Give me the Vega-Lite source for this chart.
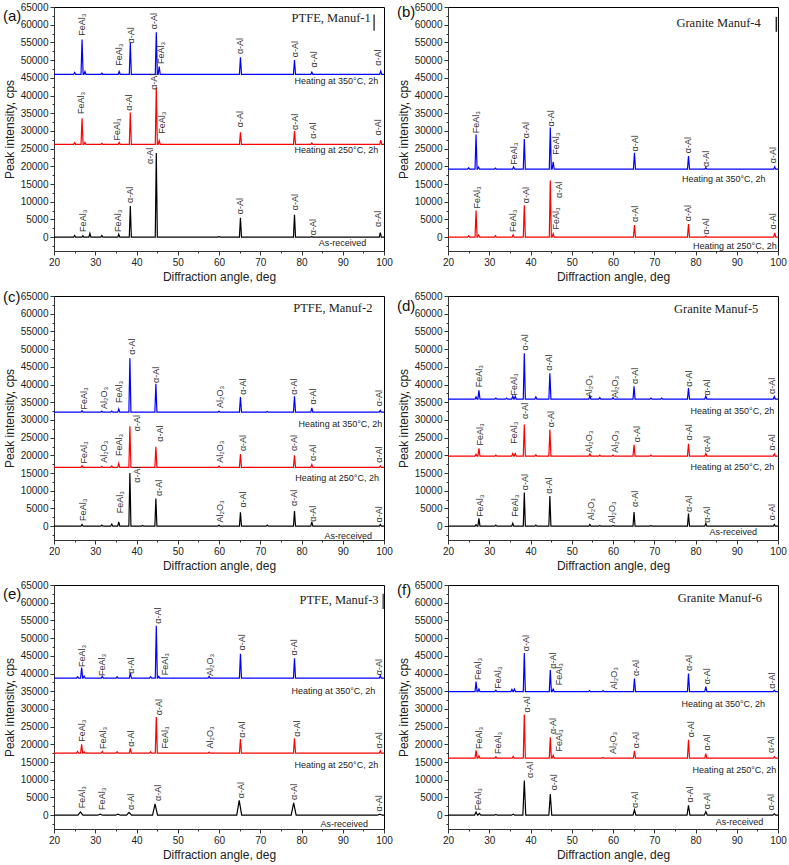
{
"$schema": "https://vega.github.io/schema/vega-lite/v6.json",
"padding": {"left": 2, "top": 1, "right": 2, "bottom": 1},
"bounds": "flush",
"data": {"values": [
{"k":"L","p":"a","s":"h3","x":20,"y":46000},{"k":"L","p":"a","s":"h3","x":24.75,"y":46000},{"k":"L","p":"a","s":"h3","x":25,"y":46500},{"k":"L","p":"a","s":"h3","x":25.25,"y":46000},{"k":"L","p":"a","s":"h3","x":26.55,"y":46000},{"k":"L","p":"a","s":"h3","x":26.8,"y":55800},{"k":"L","p":"a","s":"h3","x":27.05,"y":46000},{"k":"L","p":"a","s":"h3","x":27.25,"y":46000},{"k":"L","p":"a","s":"h3","x":27.5,"y":46800},{"k":"L","p":"a","s":"h3","x":27.75,"y":46000},{"k":"L","p":"a","s":"h3","x":31.35,"y":46000},{"k":"L","p":"a","s":"h3","x":31.6,"y":46300},{"k":"L","p":"a","s":"h3","x":31.85,"y":46000},{"k":"L","p":"a","s":"h3","x":35.55,"y":46000},{"k":"L","p":"a","s":"h3","x":35.8,"y":46800},{"k":"L","p":"a","s":"h3","x":36.05,"y":46000},{"k":"L","p":"a","s":"h3","x":38.25,"y":46000},{"k":"L","p":"a","s":"h3","x":38.5,"y":54800},{"k":"L","p":"a","s":"h3","x":38.75,"y":46000},{"k":"L","p":"a","s":"h3","x":44.55,"y":46000},{"k":"L","p":"a","s":"h3","x":44.8,"y":57900},{"k":"L","p":"a","s":"h3","x":45.05,"y":46000},{"k":"L","p":"a","s":"h3","x":45.25,"y":46000},{"k":"L","p":"a","s":"h3","x":45.5,"y":48200},{"k":"L","p":"a","s":"h3","x":45.75,"y":46000},{"k":"L","p":"a","s":"h3","x":64.95,"y":46000},{"k":"L","p":"a","s":"h3","x":65.2,"y":50800},{"k":"L","p":"a","s":"h3","x":65.45,"y":46000},{"k":"L","p":"a","s":"h3","x":78.05,"y":46000},{"k":"L","p":"a","s":"h3","x":78.3,"y":50000},{"k":"L","p":"a","s":"h3","x":78.55,"y":46000},{"k":"L","p":"a","s":"h3","x":82.25,"y":46000},{"k":"L","p":"a","s":"h3","x":82.5,"y":46600},{"k":"L","p":"a","s":"h3","x":82.75,"y":46000},{"k":"L","p":"a","s":"h3","x":98.95,"y":46000},{"k":"L","p":"a","s":"h3","x":99.2,"y":46900},{"k":"L","p":"a","s":"h3","x":99.45,"y":46000},{"k":"L","p":"a","s":"h3","x":100,"y":46000},
{"k":"L","p":"a","s":"h2","x":20,"y":26200},{"k":"L","p":"a","s":"h2","x":24.75,"y":26200},{"k":"L","p":"a","s":"h2","x":25,"y":26700},{"k":"L","p":"a","s":"h2","x":25.25,"y":26200},{"k":"L","p":"a","s":"h2","x":26.55,"y":26200},{"k":"L","p":"a","s":"h2","x":26.8,"y":33600},{"k":"L","p":"a","s":"h2","x":27.05,"y":26200},{"k":"L","p":"a","s":"h2","x":27.25,"y":26200},{"k":"L","p":"a","s":"h2","x":27.5,"y":26800},{"k":"L","p":"a","s":"h2","x":27.75,"y":26200},{"k":"L","p":"a","s":"h2","x":31.35,"y":26200},{"k":"L","p":"a","s":"h2","x":31.6,"y":26500},{"k":"L","p":"a","s":"h2","x":31.85,"y":26200},{"k":"L","p":"a","s":"h2","x":35.55,"y":26200},{"k":"L","p":"a","s":"h2","x":35.8,"y":26800},{"k":"L","p":"a","s":"h2","x":36.05,"y":26200},{"k":"L","p":"a","s":"h2","x":38.25,"y":26200},{"k":"L","p":"a","s":"h2","x":38.5,"y":35200},{"k":"L","p":"a","s":"h2","x":38.75,"y":26200},{"k":"L","p":"a","s":"h2","x":44.55,"y":26200},{"k":"L","p":"a","s":"h2","x":44.8,"y":42300},{"k":"L","p":"a","s":"h2","x":45.05,"y":26200},{"k":"L","p":"a","s":"h2","x":45.25,"y":26200},{"k":"L","p":"a","s":"h2","x":45.5,"y":27300},{"k":"L","p":"a","s":"h2","x":45.75,"y":26200},{"k":"L","p":"a","s":"h2","x":64.95,"y":26200},{"k":"L","p":"a","s":"h2","x":65.2,"y":29600},{"k":"L","p":"a","s":"h2","x":65.45,"y":26200},{"k":"L","p":"a","s":"h2","x":78.05,"y":26200},{"k":"L","p":"a","s":"h2","x":78.3,"y":30000},{"k":"L","p":"a","s":"h2","x":78.55,"y":26200},{"k":"L","p":"a","s":"h2","x":82.25,"y":26200},{"k":"L","p":"a","s":"h2","x":82.5,"y":26600},{"k":"L","p":"a","s":"h2","x":82.75,"y":26200},{"k":"L","p":"a","s":"h2","x":98.95,"y":26200},{"k":"L","p":"a","s":"h2","x":99.2,"y":27400},{"k":"L","p":"a","s":"h2","x":99.45,"y":26200},{"k":"L","p":"a","s":"h2","x":100,"y":26200},
{"k":"L","p":"a","s":"ar","x":20,"y":0},{"k":"L","p":"a","s":"ar","x":24.75,"y":0},{"k":"L","p":"a","s":"ar","x":25,"y":500},{"k":"L","p":"a","s":"ar","x":25.25,"y":0},{"k":"L","p":"a","s":"ar","x":26.75,"y":0},{"k":"L","p":"a","s":"ar","x":27,"y":400},{"k":"L","p":"a","s":"ar","x":27.25,"y":0},{"k":"L","p":"a","s":"ar","x":28.45,"y":0},{"k":"L","p":"a","s":"ar","x":28.7,"y":1100},{"k":"L","p":"a","s":"ar","x":28.95,"y":0},{"k":"L","p":"a","s":"ar","x":31.35,"y":0},{"k":"L","p":"a","s":"ar","x":31.6,"y":500},{"k":"L","p":"a","s":"ar","x":31.85,"y":0},{"k":"L","p":"a","s":"ar","x":35.45,"y":0},{"k":"L","p":"a","s":"ar","x":35.7,"y":800},{"k":"L","p":"a","s":"ar","x":35.95,"y":0},{"k":"L","p":"a","s":"ar","x":38.25,"y":0},{"k":"L","p":"a","s":"ar","x":38.5,"y":8800},{"k":"L","p":"a","s":"ar","x":38.75,"y":0},{"k":"L","p":"a","s":"ar","x":44.55,"y":0},{"k":"L","p":"a","s":"ar","x":44.8,"y":23800},{"k":"L","p":"a","s":"ar","x":45.05,"y":0},{"k":"L","p":"a","s":"ar","x":59.75,"y":0},{"k":"L","p":"a","s":"ar","x":60,"y":200},{"k":"L","p":"a","s":"ar","x":60.25,"y":0},{"k":"L","p":"a","s":"ar","x":64.95,"y":0},{"k":"L","p":"a","s":"ar","x":65.2,"y":5500},{"k":"L","p":"a","s":"ar","x":65.45,"y":0},{"k":"L","p":"a","s":"ar","x":78.05,"y":0},{"k":"L","p":"a","s":"ar","x":78.3,"y":6300},{"k":"L","p":"a","s":"ar","x":78.55,"y":0},{"k":"L","p":"a","s":"ar","x":82.25,"y":0},{"k":"L","p":"a","s":"ar","x":82.5,"y":200},{"k":"L","p":"a","s":"ar","x":82.75,"y":0},{"k":"L","p":"a","s":"ar","x":98.85,"y":0},{"k":"L","p":"a","s":"ar","x":99.1,"y":1300},{"k":"L","p":"a","s":"ar","x":99.35,"y":0},{"k":"L","p":"a","s":"ar","x":100,"y":0},
{"k":"L","p":"b","s":"h3","x":20,"y":19200},{"k":"L","p":"b","s":"h3","x":24.75,"y":19200},{"k":"L","p":"b","s":"h3","x":25,"y":19600},{"k":"L","p":"b","s":"h3","x":25.25,"y":19200},{"k":"L","p":"b","s":"h3","x":26.55,"y":19200},{"k":"L","p":"b","s":"h3","x":26.8,"y":29000},{"k":"L","p":"b","s":"h3","x":27.05,"y":19200},{"k":"L","p":"b","s":"h3","x":27.15,"y":19200},{"k":"L","p":"b","s":"h3","x":27.4,"y":19800},{"k":"L","p":"b","s":"h3","x":27.65,"y":19200},{"k":"L","p":"b","s":"h3","x":31.25,"y":19200},{"k":"L","p":"b","s":"h3","x":31.5,"y":19500},{"k":"L","p":"b","s":"h3","x":31.75,"y":19200},{"k":"L","p":"b","s":"h3","x":35.65,"y":19200},{"k":"L","p":"b","s":"h3","x":35.9,"y":19900},{"k":"L","p":"b","s":"h3","x":36.15,"y":19200},{"k":"L","p":"b","s":"h3","x":38.25,"y":19200},{"k":"L","p":"b","s":"h3","x":38.5,"y":27700},{"k":"L","p":"b","s":"h3","x":38.75,"y":19200},{"k":"L","p":"b","s":"h3","x":44.55,"y":19200},{"k":"L","p":"b","s":"h3","x":44.8,"y":31000},{"k":"L","p":"b","s":"h3","x":45.05,"y":19200},{"k":"L","p":"b","s":"h3","x":45.25,"y":19200},{"k":"L","p":"b","s":"h3","x":45.5,"y":21300},{"k":"L","p":"b","s":"h3","x":45.75,"y":19200},{"k":"L","p":"b","s":"h3","x":64.95,"y":19200},{"k":"L","p":"b","s":"h3","x":65.2,"y":23800},{"k":"L","p":"b","s":"h3","x":65.45,"y":19200},{"k":"L","p":"b","s":"h3","x":78.05,"y":19200},{"k":"L","p":"b","s":"h3","x":78.3,"y":22900},{"k":"L","p":"b","s":"h3","x":78.55,"y":19200},{"k":"L","p":"b","s":"h3","x":82.25,"y":19200},{"k":"L","p":"b","s":"h3","x":82.5,"y":19700},{"k":"L","p":"b","s":"h3","x":82.75,"y":19200},{"k":"L","p":"b","s":"h3","x":98.95,"y":19200},{"k":"L","p":"b","s":"h3","x":99.2,"y":19900},{"k":"L","p":"b","s":"h3","x":99.45,"y":19200},{"k":"L","p":"b","s":"h3","x":100,"y":19200},
{"k":"L","p":"b","s":"h2","x":20,"y":0},{"k":"L","p":"b","s":"h2","x":24.75,"y":0},{"k":"L","p":"b","s":"h2","x":25,"y":400},{"k":"L","p":"b","s":"h2","x":25.25,"y":0},{"k":"L","p":"b","s":"h2","x":26.55,"y":0},{"k":"L","p":"b","s":"h2","x":26.8,"y":7500},{"k":"L","p":"b","s":"h2","x":27.05,"y":0},{"k":"L","p":"b","s":"h2","x":27.15,"y":0},{"k":"L","p":"b","s":"h2","x":27.4,"y":600},{"k":"L","p":"b","s":"h2","x":27.65,"y":0},{"k":"L","p":"b","s":"h2","x":31.25,"y":0},{"k":"L","p":"b","s":"h2","x":31.5,"y":400},{"k":"L","p":"b","s":"h2","x":31.75,"y":0},{"k":"L","p":"b","s":"h2","x":35.55,"y":0},{"k":"L","p":"b","s":"h2","x":35.8,"y":700},{"k":"L","p":"b","s":"h2","x":36.05,"y":0},{"k":"L","p":"b","s":"h2","x":38.25,"y":0},{"k":"L","p":"b","s":"h2","x":38.5,"y":9000},{"k":"L","p":"b","s":"h2","x":38.75,"y":0},{"k":"L","p":"b","s":"h2","x":44.55,"y":0},{"k":"L","p":"b","s":"h2","x":44.8,"y":16000},{"k":"L","p":"b","s":"h2","x":45.05,"y":0},{"k":"L","p":"b","s":"h2","x":45.25,"y":0},{"k":"L","p":"b","s":"h2","x":45.5,"y":1000},{"k":"L","p":"b","s":"h2","x":45.75,"y":0},{"k":"L","p":"b","s":"h2","x":64.95,"y":0},{"k":"L","p":"b","s":"h2","x":65.2,"y":3400},{"k":"L","p":"b","s":"h2","x":65.45,"y":0},{"k":"L","p":"b","s":"h2","x":78.05,"y":0},{"k":"L","p":"b","s":"h2","x":78.3,"y":3700},{"k":"L","p":"b","s":"h2","x":78.55,"y":0},{"k":"L","p":"b","s":"h2","x":82.25,"y":0},{"k":"L","p":"b","s":"h2","x":82.5,"y":300},{"k":"L","p":"b","s":"h2","x":82.75,"y":0},{"k":"L","p":"b","s":"h2","x":98.95,"y":0},{"k":"L","p":"b","s":"h2","x":99.2,"y":1200},{"k":"L","p":"b","s":"h2","x":99.45,"y":0},{"k":"L","p":"b","s":"h2","x":100,"y":0},
{"k":"L","p":"c","s":"h3","x":20,"y":32200},{"k":"L","p":"c","s":"h3","x":26.55,"y":32200},{"k":"L","p":"c","s":"h3","x":26.8,"y":32600},{"k":"L","p":"c","s":"h3","x":27.05,"y":32200},{"k":"L","p":"c","s":"h3","x":31.35,"y":32200},{"k":"L","p":"c","s":"h3","x":31.6,"y":32500},{"k":"L","p":"c","s":"h3","x":31.85,"y":32200},{"k":"L","p":"c","s":"h3","x":33.75,"y":32200},{"k":"L","p":"c","s":"h3","x":34,"y":32500},{"k":"L","p":"c","s":"h3","x":34.25,"y":32200},{"k":"L","p":"c","s":"h3","x":35.45,"y":32200},{"k":"L","p":"c","s":"h3","x":35.7,"y":33100},{"k":"L","p":"c","s":"h3","x":35.95,"y":32200},{"k":"L","p":"c","s":"h3","x":38.15,"y":32200},{"k":"L","p":"c","s":"h3","x":38.4,"y":47400},{"k":"L","p":"c","s":"h3","x":38.65,"y":32200},{"k":"L","p":"c","s":"h3","x":44.45,"y":32200},{"k":"L","p":"c","s":"h3","x":44.7,"y":40200},{"k":"L","p":"c","s":"h3","x":44.95,"y":32200},{"k":"L","p":"c","s":"h3","x":59.75,"y":32200},{"k":"L","p":"c","s":"h3","x":60,"y":32500},{"k":"L","p":"c","s":"h3","x":60.25,"y":32200},{"k":"L","p":"c","s":"h3","x":64.95,"y":32200},{"k":"L","p":"c","s":"h3","x":65.2,"y":36500},{"k":"L","p":"c","s":"h3","x":65.45,"y":32200},{"k":"L","p":"c","s":"h3","x":71.45,"y":32200},{"k":"L","p":"c","s":"h3","x":71.7,"y":32400},{"k":"L","p":"c","s":"h3","x":71.95,"y":32200},{"k":"L","p":"c","s":"h3","x":78.05,"y":32200},{"k":"L","p":"c","s":"h3","x":78.3,"y":36700},{"k":"L","p":"c","s":"h3","x":78.55,"y":32200},{"k":"L","p":"c","s":"h3","x":82.25,"y":32200},{"k":"L","p":"c","s":"h3","x":82.5,"y":33400},{"k":"L","p":"c","s":"h3","x":82.75,"y":32200},{"k":"L","p":"c","s":"h3","x":98.85,"y":32200},{"k":"L","p":"c","s":"h3","x":99.1,"y":32700},{"k":"L","p":"c","s":"h3","x":99.35,"y":32200},{"k":"L","p":"c","s":"h3","x":100,"y":32200},
{"k":"L","p":"c","s":"h2","x":20,"y":16600},{"k":"L","p":"c","s":"h2","x":26.55,"y":16600},{"k":"L","p":"c","s":"h2","x":26.8,"y":17100},{"k":"L","p":"c","s":"h2","x":27.05,"y":16600},{"k":"L","p":"c","s":"h2","x":31.35,"y":16600},{"k":"L","p":"c","s":"h2","x":31.6,"y":16900},{"k":"L","p":"c","s":"h2","x":31.85,"y":16600},{"k":"L","p":"c","s":"h2","x":33.75,"y":16600},{"k":"L","p":"c","s":"h2","x":34,"y":17000},{"k":"L","p":"c","s":"h2","x":34.25,"y":16600},{"k":"L","p":"c","s":"h2","x":35.45,"y":16600},{"k":"L","p":"c","s":"h2","x":35.7,"y":17700},{"k":"L","p":"c","s":"h2","x":35.95,"y":16600},{"k":"L","p":"c","s":"h2","x":38.15,"y":16600},{"k":"L","p":"c","s":"h2","x":38.4,"y":28200},{"k":"L","p":"c","s":"h2","x":38.65,"y":16600},{"k":"L","p":"c","s":"h2","x":44.45,"y":16600},{"k":"L","p":"c","s":"h2","x":44.7,"y":22400},{"k":"L","p":"c","s":"h2","x":44.95,"y":16600},{"k":"L","p":"c","s":"h2","x":59.75,"y":16600},{"k":"L","p":"c","s":"h2","x":60,"y":17000},{"k":"L","p":"c","s":"h2","x":60.25,"y":16600},{"k":"L","p":"c","s":"h2","x":64.95,"y":16600},{"k":"L","p":"c","s":"h2","x":65.2,"y":20400},{"k":"L","p":"c","s":"h2","x":65.45,"y":16600},{"k":"L","p":"c","s":"h2","x":78.05,"y":16600},{"k":"L","p":"c","s":"h2","x":78.3,"y":20000},{"k":"L","p":"c","s":"h2","x":78.55,"y":16600},{"k":"L","p":"c","s":"h2","x":82.25,"y":16600},{"k":"L","p":"c","s":"h2","x":82.5,"y":17400},{"k":"L","p":"c","s":"h2","x":82.75,"y":16600},{"k":"L","p":"c","s":"h2","x":98.85,"y":16600},{"k":"L","p":"c","s":"h2","x":99.1,"y":17000},{"k":"L","p":"c","s":"h2","x":99.35,"y":16600},{"k":"L","p":"c","s":"h2","x":100,"y":16600},
{"k":"L","p":"c","s":"ar","x":20,"y":0},{"k":"L","p":"c","s":"ar","x":26.55,"y":0},{"k":"L","p":"c","s":"ar","x":26.8,"y":500},{"k":"L","p":"c","s":"ar","x":27.05,"y":0},{"k":"L","p":"c","s":"ar","x":31.35,"y":0},{"k":"L","p":"c","s":"ar","x":31.6,"y":300},{"k":"L","p":"c","s":"ar","x":31.85,"y":0},{"k":"L","p":"c","s":"ar","x":33.75,"y":0},{"k":"L","p":"c","s":"ar","x":34,"y":600},{"k":"L","p":"c","s":"ar","x":34.25,"y":0},{"k":"L","p":"c","s":"ar","x":35.45,"y":0},{"k":"L","p":"c","s":"ar","x":35.7,"y":1200},{"k":"L","p":"c","s":"ar","x":35.95,"y":0},{"k":"L","p":"c","s":"ar","x":38.15,"y":0},{"k":"L","p":"c","s":"ar","x":38.4,"y":15000},{"k":"L","p":"c","s":"ar","x":38.65,"y":0},{"k":"L","p":"c","s":"ar","x":41.25,"y":0},{"k":"L","p":"c","s":"ar","x":41.5,"y":200},{"k":"L","p":"c","s":"ar","x":41.75,"y":0},{"k":"L","p":"c","s":"ar","x":44.45,"y":0},{"k":"L","p":"c","s":"ar","x":44.7,"y":7800},{"k":"L","p":"c","s":"ar","x":44.95,"y":0},{"k":"L","p":"c","s":"ar","x":59.75,"y":0},{"k":"L","p":"c","s":"ar","x":60,"y":300},{"k":"L","p":"c","s":"ar","x":60.25,"y":0},{"k":"L","p":"c","s":"ar","x":64.95,"y":0},{"k":"L","p":"c","s":"ar","x":65.2,"y":3900},{"k":"L","p":"c","s":"ar","x":65.45,"y":0},{"k":"L","p":"c","s":"ar","x":71.45,"y":0},{"k":"L","p":"c","s":"ar","x":71.7,"y":300},{"k":"L","p":"c","s":"ar","x":71.95,"y":0},{"k":"L","p":"c","s":"ar","x":78.05,"y":0},{"k":"L","p":"c","s":"ar","x":78.3,"y":4300},{"k":"L","p":"c","s":"ar","x":78.55,"y":0},{"k":"L","p":"c","s":"ar","x":82.25,"y":0},{"k":"L","p":"c","s":"ar","x":82.5,"y":1200},{"k":"L","p":"c","s":"ar","x":82.75,"y":0},{"k":"L","p":"c","s":"ar","x":98.85,"y":0},{"k":"L","p":"c","s":"ar","x":99.1,"y":500},{"k":"L","p":"c","s":"ar","x":99.35,"y":0},{"k":"L","p":"c","s":"ar","x":100,"y":0},
{"k":"L","p":"d","s":"h3","x":20,"y":35900},{"k":"L","p":"d","s":"h3","x":26.55,"y":35900},{"k":"L","p":"d","s":"h3","x":26.8,"y":36500},{"k":"L","p":"d","s":"h3","x":27.05,"y":35900},{"k":"L","p":"d","s":"h3","x":27.25,"y":35900},{"k":"L","p":"d","s":"h3","x":27.5,"y":38400},{"k":"L","p":"d","s":"h3","x":27.75,"y":35900},{"k":"L","p":"d","s":"h3","x":31.35,"y":35900},{"k":"L","p":"d","s":"h3","x":31.6,"y":36200},{"k":"L","p":"d","s":"h3","x":31.85,"y":35900},{"k":"L","p":"d","s":"h3","x":33.95,"y":35900},{"k":"L","p":"d","s":"h3","x":34.2,"y":36200},{"k":"L","p":"d","s":"h3","x":34.45,"y":35900},{"k":"L","p":"d","s":"h3","x":35.45,"y":35900},{"k":"L","p":"d","s":"h3","x":35.7,"y":36700},{"k":"L","p":"d","s":"h3","x":35.95,"y":35900},{"k":"L","p":"d","s":"h3","x":36.05,"y":35900},{"k":"L","p":"d","s":"h3","x":36.3,"y":36700},{"k":"L","p":"d","s":"h3","x":36.55,"y":35900},{"k":"L","p":"d","s":"h3","x":38.25,"y":35900},{"k":"L","p":"d","s":"h3","x":38.5,"y":48800},{"k":"L","p":"d","s":"h3","x":38.75,"y":35900},{"k":"L","p":"d","s":"h3","x":41.05,"y":35900},{"k":"L","p":"d","s":"h3","x":41.3,"y":36500},{"k":"L","p":"d","s":"h3","x":41.55,"y":35900},{"k":"L","p":"d","s":"h3","x":44.45,"y":35900},{"k":"L","p":"d","s":"h3","x":44.7,"y":43200},{"k":"L","p":"d","s":"h3","x":44.95,"y":35900},{"k":"L","p":"d","s":"h3","x":54.15,"y":35900},{"k":"L","p":"d","s":"h3","x":54.4,"y":36800},{"k":"L","p":"d","s":"h3","x":54.65,"y":35900},{"k":"L","p":"d","s":"h3","x":56.55,"y":35900},{"k":"L","p":"d","s":"h3","x":56.8,"y":36300},{"k":"L","p":"d","s":"h3","x":57.05,"y":35900},{"k":"L","p":"d","s":"h3","x":59.75,"y":35900},{"k":"L","p":"d","s":"h3","x":60,"y":36300},{"k":"L","p":"d","s":"h3","x":60.25,"y":35900},{"k":"L","p":"d","s":"h3","x":64.85,"y":35900},{"k":"L","p":"d","s":"h3","x":65.1,"y":39500},{"k":"L","p":"d","s":"h3","x":65.35,"y":35900},{"k":"L","p":"d","s":"h3","x":68.95,"y":35900},{"k":"L","p":"d","s":"h3","x":69.2,"y":36200},{"k":"L","p":"d","s":"h3","x":69.45,"y":35900},{"k":"L","p":"d","s":"h3","x":71.55,"y":35900},{"k":"L","p":"d","s":"h3","x":71.8,"y":36200},{"k":"L","p":"d","s":"h3","x":72.05,"y":35900},{"k":"L","p":"d","s":"h3","x":78.05,"y":35900},{"k":"L","p":"d","s":"h3","x":78.3,"y":39000},{"k":"L","p":"d","s":"h3","x":78.55,"y":35900},{"k":"L","p":"d","s":"h3","x":82.25,"y":35900},{"k":"L","p":"d","s":"h3","x":82.5,"y":36700},{"k":"L","p":"d","s":"h3","x":82.75,"y":35900},{"k":"L","p":"d","s":"h3","x":98.85,"y":35900},{"k":"L","p":"d","s":"h3","x":99.1,"y":36600},{"k":"L","p":"d","s":"h3","x":99.35,"y":35900},{"k":"L","p":"d","s":"h3","x":100,"y":35900},
{"k":"L","p":"d","s":"h2","x":20,"y":19800},{"k":"L","p":"d","s":"h2","x":26.55,"y":19800},{"k":"L","p":"d","s":"h2","x":26.8,"y":20300},{"k":"L","p":"d","s":"h2","x":27.05,"y":19800},{"k":"L","p":"d","s":"h2","x":27.25,"y":19800},{"k":"L","p":"d","s":"h2","x":27.5,"y":22000},{"k":"L","p":"d","s":"h2","x":27.75,"y":19800},{"k":"L","p":"d","s":"h2","x":31.35,"y":19800},{"k":"L","p":"d","s":"h2","x":31.6,"y":20100},{"k":"L","p":"d","s":"h2","x":31.85,"y":19800},{"k":"L","p":"d","s":"h2","x":35.45,"y":19800},{"k":"L","p":"d","s":"h2","x":35.7,"y":20500},{"k":"L","p":"d","s":"h2","x":35.95,"y":19800},{"k":"L","p":"d","s":"h2","x":36.05,"y":19800},{"k":"L","p":"d","s":"h2","x":36.3,"y":20500},{"k":"L","p":"d","s":"h2","x":36.55,"y":19800},{"k":"L","p":"d","s":"h2","x":38.25,"y":19800},{"k":"L","p":"d","s":"h2","x":38.5,"y":28700},{"k":"L","p":"d","s":"h2","x":38.75,"y":19800},{"k":"L","p":"d","s":"h2","x":41.05,"y":19800},{"k":"L","p":"d","s":"h2","x":41.3,"y":20200},{"k":"L","p":"d","s":"h2","x":41.55,"y":19800},{"k":"L","p":"d","s":"h2","x":44.45,"y":19800},{"k":"L","p":"d","s":"h2","x":44.7,"y":27300},{"k":"L","p":"d","s":"h2","x":44.95,"y":19800},{"k":"L","p":"d","s":"h2","x":54.15,"y":19800},{"k":"L","p":"d","s":"h2","x":54.4,"y":20400},{"k":"L","p":"d","s":"h2","x":54.65,"y":19800},{"k":"L","p":"d","s":"h2","x":56.55,"y":19800},{"k":"L","p":"d","s":"h2","x":56.8,"y":20100},{"k":"L","p":"d","s":"h2","x":57.05,"y":19800},{"k":"L","p":"d","s":"h2","x":59.75,"y":19800},{"k":"L","p":"d","s":"h2","x":60,"y":20100},{"k":"L","p":"d","s":"h2","x":60.25,"y":19800},{"k":"L","p":"d","s":"h2","x":64.85,"y":19800},{"k":"L","p":"d","s":"h2","x":65.1,"y":23000},{"k":"L","p":"d","s":"h2","x":65.35,"y":19800},{"k":"L","p":"d","s":"h2","x":68.95,"y":19800},{"k":"L","p":"d","s":"h2","x":69.2,"y":20100},{"k":"L","p":"d","s":"h2","x":69.45,"y":19800},{"k":"L","p":"d","s":"h2","x":78.05,"y":19800},{"k":"L","p":"d","s":"h2","x":78.3,"y":23300},{"k":"L","p":"d","s":"h2","x":78.55,"y":19800},{"k":"L","p":"d","s":"h2","x":82.25,"y":19800},{"k":"L","p":"d","s":"h2","x":82.5,"y":20500},{"k":"L","p":"d","s":"h2","x":82.75,"y":19800},{"k":"L","p":"d","s":"h2","x":98.85,"y":19800},{"k":"L","p":"d","s":"h2","x":99.1,"y":20400},{"k":"L","p":"d","s":"h2","x":99.35,"y":19800},{"k":"L","p":"d","s":"h2","x":100,"y":19800},
{"k":"L","p":"d","s":"ar","x":20,"y":0},{"k":"L","p":"d","s":"ar","x":26.55,"y":0},{"k":"L","p":"d","s":"ar","x":26.8,"y":400},{"k":"L","p":"d","s":"ar","x":27.05,"y":0},{"k":"L","p":"d","s":"ar","x":27.25,"y":0},{"k":"L","p":"d","s":"ar","x":27.5,"y":2200},{"k":"L","p":"d","s":"ar","x":27.75,"y":0},{"k":"L","p":"d","s":"ar","x":31.35,"y":0},{"k":"L","p":"d","s":"ar","x":31.6,"y":300},{"k":"L","p":"d","s":"ar","x":31.85,"y":0},{"k":"L","p":"d","s":"ar","x":35.45,"y":0},{"k":"L","p":"d","s":"ar","x":35.7,"y":800},{"k":"L","p":"d","s":"ar","x":35.95,"y":0},{"k":"L","p":"d","s":"ar","x":38.25,"y":0},{"k":"L","p":"d","s":"ar","x":38.5,"y":9500},{"k":"L","p":"d","s":"ar","x":38.75,"y":0},{"k":"L","p":"d","s":"ar","x":41.05,"y":0},{"k":"L","p":"d","s":"ar","x":41.3,"y":300},{"k":"L","p":"d","s":"ar","x":41.55,"y":0},{"k":"L","p":"d","s":"ar","x":44.45,"y":0},{"k":"L","p":"d","s":"ar","x":44.7,"y":8500},{"k":"L","p":"d","s":"ar","x":44.95,"y":0},{"k":"L","p":"d","s":"ar","x":54.15,"y":0},{"k":"L","p":"d","s":"ar","x":54.4,"y":500},{"k":"L","p":"d","s":"ar","x":54.65,"y":0},{"k":"L","p":"d","s":"ar","x":56.55,"y":0},{"k":"L","p":"d","s":"ar","x":56.8,"y":200},{"k":"L","p":"d","s":"ar","x":57.05,"y":0},{"k":"L","p":"d","s":"ar","x":59.75,"y":0},{"k":"L","p":"d","s":"ar","x":60,"y":200},{"k":"L","p":"d","s":"ar","x":60.25,"y":0},{"k":"L","p":"d","s":"ar","x":64.85,"y":0},{"k":"L","p":"d","s":"ar","x":65.1,"y":4000},{"k":"L","p":"d","s":"ar","x":65.35,"y":0},{"k":"L","p":"d","s":"ar","x":68.95,"y":0},{"k":"L","p":"d","s":"ar","x":69.2,"y":200},{"k":"L","p":"d","s":"ar","x":69.45,"y":0},{"k":"L","p":"d","s":"ar","x":78.05,"y":0},{"k":"L","p":"d","s":"ar","x":78.3,"y":3600},{"k":"L","p":"d","s":"ar","x":78.55,"y":0},{"k":"L","p":"d","s":"ar","x":82.25,"y":0},{"k":"L","p":"d","s":"ar","x":82.5,"y":800},{"k":"L","p":"d","s":"ar","x":82.75,"y":0},{"k":"L","p":"d","s":"ar","x":98.85,"y":0},{"k":"L","p":"d","s":"ar","x":99.1,"y":500},{"k":"L","p":"d","s":"ar","x":99.35,"y":0},{"k":"L","p":"d","s":"ar","x":100,"y":0},
{"k":"L","p":"e","s":"h3","x":20,"y":38700},{"k":"L","p":"e","s":"h3","x":25.45,"y":38700},{"k":"L","p":"e","s":"h3","x":25.7,"y":39100},{"k":"L","p":"e","s":"h3","x":25.95,"y":38700},{"k":"L","p":"e","s":"h3","x":26.45,"y":38700},{"k":"L","p":"e","s":"h3","x":26.7,"y":41700},{"k":"L","p":"e","s":"h3","x":26.95,"y":38700},{"k":"L","p":"e","s":"h3","x":27.05,"y":38700},{"k":"L","p":"e","s":"h3","x":27.3,"y":39300},{"k":"L","p":"e","s":"h3","x":27.55,"y":38700},{"k":"L","p":"e","s":"h3","x":31.45,"y":38700},{"k":"L","p":"e","s":"h3","x":31.7,"y":39200},{"k":"L","p":"e","s":"h3","x":31.95,"y":38700},{"k":"L","p":"e","s":"h3","x":35.05,"y":38700},{"k":"L","p":"e","s":"h3","x":35.3,"y":39100},{"k":"L","p":"e","s":"h3","x":35.55,"y":38700},{"k":"L","p":"e","s":"h3","x":38.25,"y":38700},{"k":"L","p":"e","s":"h3","x":38.5,"y":40200},{"k":"L","p":"e","s":"h3","x":38.75,"y":38700},{"k":"L","p":"e","s":"h3","x":43.15,"y":38700},{"k":"L","p":"e","s":"h3","x":43.4,"y":39100},{"k":"L","p":"e","s":"h3","x":43.65,"y":38700},{"k":"L","p":"e","s":"h3","x":44.55,"y":38700},{"k":"L","p":"e","s":"h3","x":44.8,"y":53500},{"k":"L","p":"e","s":"h3","x":45.05,"y":38700},{"k":"L","p":"e","s":"h3","x":45.15,"y":38700},{"k":"L","p":"e","s":"h3","x":45.4,"y":39200},{"k":"L","p":"e","s":"h3","x":45.65,"y":38700},{"k":"L","p":"e","s":"h3","x":57.35,"y":38700},{"k":"L","p":"e","s":"h3","x":57.6,"y":39200},{"k":"L","p":"e","s":"h3","x":57.85,"y":38700},{"k":"L","p":"e","s":"h3","x":64.95,"y":38700},{"k":"L","p":"e","s":"h3","x":65.2,"y":45600},{"k":"L","p":"e","s":"h3","x":65.45,"y":38700},{"k":"L","p":"e","s":"h3","x":78.05,"y":38700},{"k":"L","p":"e","s":"h3","x":78.3,"y":44300},{"k":"L","p":"e","s":"h3","x":78.55,"y":38700},{"k":"L","p":"e","s":"h3","x":98.85,"y":38700},{"k":"L","p":"e","s":"h3","x":99.1,"y":39400},{"k":"L","p":"e","s":"h3","x":99.35,"y":38700},{"k":"L","p":"e","s":"h3","x":100,"y":38700},
{"k":"L","p":"e","s":"h2","x":20,"y":17500},{"k":"L","p":"e","s":"h2","x":25.45,"y":17500},{"k":"L","p":"e","s":"h2","x":25.7,"y":18000},{"k":"L","p":"e","s":"h2","x":25.95,"y":17500},{"k":"L","p":"e","s":"h2","x":26.45,"y":17500},{"k":"L","p":"e","s":"h2","x":26.7,"y":20000},{"k":"L","p":"e","s":"h2","x":26.95,"y":17500},{"k":"L","p":"e","s":"h2","x":27.05,"y":17500},{"k":"L","p":"e","s":"h2","x":27.3,"y":17900},{"k":"L","p":"e","s":"h2","x":27.55,"y":17500},{"k":"L","p":"e","s":"h2","x":31.45,"y":17500},{"k":"L","p":"e","s":"h2","x":31.7,"y":18000},{"k":"L","p":"e","s":"h2","x":31.95,"y":17500},{"k":"L","p":"e","s":"h2","x":35.05,"y":17500},{"k":"L","p":"e","s":"h2","x":35.3,"y":17900},{"k":"L","p":"e","s":"h2","x":35.55,"y":17500},{"k":"L","p":"e","s":"h2","x":38.25,"y":17500},{"k":"L","p":"e","s":"h2","x":38.5,"y":18900},{"k":"L","p":"e","s":"h2","x":38.75,"y":17500},{"k":"L","p":"e","s":"h2","x":43.15,"y":17500},{"k":"L","p":"e","s":"h2","x":43.4,"y":17900},{"k":"L","p":"e","s":"h2","x":43.65,"y":17500},{"k":"L","p":"e","s":"h2","x":44.55,"y":17500},{"k":"L","p":"e","s":"h2","x":44.8,"y":27700},{"k":"L","p":"e","s":"h2","x":45.05,"y":17500},{"k":"L","p":"e","s":"h2","x":57.35,"y":17500},{"k":"L","p":"e","s":"h2","x":57.6,"y":17800},{"k":"L","p":"e","s":"h2","x":57.85,"y":17500},{"k":"L","p":"e","s":"h2","x":64.95,"y":17500},{"k":"L","p":"e","s":"h2","x":65.2,"y":21500},{"k":"L","p":"e","s":"h2","x":65.45,"y":17500},{"k":"L","p":"e","s":"h2","x":78.05,"y":17500},{"k":"L","p":"e","s":"h2","x":78.3,"y":21700},{"k":"L","p":"e","s":"h2","x":78.55,"y":17500},{"k":"L","p":"e","s":"h2","x":98.85,"y":17500},{"k":"L","p":"e","s":"h2","x":99.1,"y":18200},{"k":"L","p":"e","s":"h2","x":99.35,"y":17500},{"k":"L","p":"e","s":"h2","x":100,"y":17500},
{"k":"L","p":"e","s":"ar","x":20,"y":0},{"k":"L","p":"e","s":"ar","x":25.8,"y":0},{"k":"L","p":"e","s":"ar","x":26.4,"y":900},{"k":"L","p":"e","s":"ar","x":27,"y":0},{"k":"L","p":"e","s":"ar","x":30.6,"y":0},{"k":"L","p":"e","s":"ar","x":31.2,"y":300},{"k":"L","p":"e","s":"ar","x":31.8,"y":0},{"k":"L","p":"e","s":"ar","x":34.9,"y":0},{"k":"L","p":"e","s":"ar","x":35.5,"y":300},{"k":"L","p":"e","s":"ar","x":36.1,"y":0},{"k":"L","p":"e","s":"ar","x":37.6,"y":0},{"k":"L","p":"e","s":"ar","x":38.2,"y":800},{"k":"L","p":"e","s":"ar","x":38.8,"y":0},{"k":"L","p":"e","s":"ar","x":43.9,"y":0},{"k":"L","p":"e","s":"ar","x":44.5,"y":3200},{"k":"L","p":"e","s":"ar","x":45.1,"y":0},{"k":"L","p":"e","s":"ar","x":64.3,"y":0},{"k":"L","p":"e","s":"ar","x":64.9,"y":4200},{"k":"L","p":"e","s":"ar","x":65.5,"y":0},{"k":"L","p":"e","s":"ar","x":77.5,"y":0},{"k":"L","p":"e","s":"ar","x":78.1,"y":3500},{"k":"L","p":"e","s":"ar","x":78.7,"y":0},{"k":"L","p":"e","s":"ar","x":98.4,"y":0},{"k":"L","p":"e","s":"ar","x":99,"y":300},{"k":"L","p":"e","s":"ar","x":99.6,"y":0},{"k":"L","p":"e","s":"ar","x":100,"y":0},
{"k":"L","p":"f","s":"h3","x":20,"y":34900},{"k":"L","p":"f","s":"h3","x":26.55,"y":34900},{"k":"L","p":"f","s":"h3","x":26.8,"y":37700},{"k":"L","p":"f","s":"h3","x":27.05,"y":34900},{"k":"L","p":"f","s":"h3","x":27.25,"y":34900},{"k":"L","p":"f","s":"h3","x":27.5,"y":35600},{"k":"L","p":"f","s":"h3","x":27.75,"y":34900},{"k":"L","p":"f","s":"h3","x":31.35,"y":34900},{"k":"L","p":"f","s":"h3","x":31.6,"y":35300},{"k":"L","p":"f","s":"h3","x":31.85,"y":34900},{"k":"L","p":"f","s":"h3","x":35.25,"y":34900},{"k":"L","p":"f","s":"h3","x":35.5,"y":35500},{"k":"L","p":"f","s":"h3","x":35.75,"y":34900},{"k":"L","p":"f","s":"h3","x":35.85,"y":34900},{"k":"L","p":"f","s":"h3","x":36.1,"y":35600},{"k":"L","p":"f","s":"h3","x":36.35,"y":34900},{"k":"L","p":"f","s":"h3","x":38.25,"y":34900},{"k":"L","p":"f","s":"h3","x":38.5,"y":45800},{"k":"L","p":"f","s":"h3","x":38.75,"y":34900},{"k":"L","p":"f","s":"h3","x":44.55,"y":34900},{"k":"L","p":"f","s":"h3","x":44.8,"y":41000},{"k":"L","p":"f","s":"h3","x":45.05,"y":34900},{"k":"L","p":"f","s":"h3","x":45.25,"y":34900},{"k":"L","p":"f","s":"h3","x":45.5,"y":35600},{"k":"L","p":"f","s":"h3","x":45.75,"y":34900},{"k":"L","p":"f","s":"h3","x":54.05,"y":34900},{"k":"L","p":"f","s":"h3","x":54.3,"y":35200},{"k":"L","p":"f","s":"h3","x":54.55,"y":34900},{"k":"L","p":"f","s":"h3","x":57.35,"y":34900},{"k":"L","p":"f","s":"h3","x":57.6,"y":35200},{"k":"L","p":"f","s":"h3","x":57.85,"y":34900},{"k":"L","p":"f","s":"h3","x":64.95,"y":34900},{"k":"L","p":"f","s":"h3","x":65.2,"y":38600},{"k":"L","p":"f","s":"h3","x":65.45,"y":34900},{"k":"L","p":"f","s":"h3","x":78.05,"y":34900},{"k":"L","p":"f","s":"h3","x":78.3,"y":40000},{"k":"L","p":"f","s":"h3","x":78.55,"y":34900},{"k":"L","p":"f","s":"h3","x":82.25,"y":34900},{"k":"L","p":"f","s":"h3","x":82.5,"y":36300},{"k":"L","p":"f","s":"h3","x":82.75,"y":34900},{"k":"L","p":"f","s":"h3","x":98.85,"y":34900},{"k":"L","p":"f","s":"h3","x":99.1,"y":35300},{"k":"L","p":"f","s":"h3","x":99.35,"y":34900},{"k":"L","p":"f","s":"h3","x":100,"y":34900},
{"k":"L","p":"f","s":"h2","x":20,"y":16100},{"k":"L","p":"f","s":"h2","x":26.55,"y":16100},{"k":"L","p":"f","s":"h2","x":26.8,"y":18300},{"k":"L","p":"f","s":"h2","x":27.05,"y":16100},{"k":"L","p":"f","s":"h2","x":27.25,"y":16100},{"k":"L","p":"f","s":"h2","x":27.5,"y":16800},{"k":"L","p":"f","s":"h2","x":27.75,"y":16100},{"k":"L","p":"f","s":"h2","x":31.35,"y":16100},{"k":"L","p":"f","s":"h2","x":31.6,"y":16500},{"k":"L","p":"f","s":"h2","x":31.85,"y":16100},{"k":"L","p":"f","s":"h2","x":35.55,"y":16100},{"k":"L","p":"f","s":"h2","x":35.8,"y":16600},{"k":"L","p":"f","s":"h2","x":36.05,"y":16100},{"k":"L","p":"f","s":"h2","x":38.25,"y":16100},{"k":"L","p":"f","s":"h2","x":38.5,"y":28400},{"k":"L","p":"f","s":"h2","x":38.75,"y":16100},{"k":"L","p":"f","s":"h2","x":44.55,"y":16100},{"k":"L","p":"f","s":"h2","x":44.8,"y":22000},{"k":"L","p":"f","s":"h2","x":45.05,"y":16100},{"k":"L","p":"f","s":"h2","x":45.25,"y":16100},{"k":"L","p":"f","s":"h2","x":45.5,"y":16900},{"k":"L","p":"f","s":"h2","x":45.75,"y":16100},{"k":"L","p":"f","s":"h2","x":57.35,"y":16100},{"k":"L","p":"f","s":"h2","x":57.6,"y":16300},{"k":"L","p":"f","s":"h2","x":57.85,"y":16100},{"k":"L","p":"f","s":"h2","x":64.95,"y":16100},{"k":"L","p":"f","s":"h2","x":65.2,"y":18200},{"k":"L","p":"f","s":"h2","x":65.45,"y":16100},{"k":"L","p":"f","s":"h2","x":78.05,"y":16100},{"k":"L","p":"f","s":"h2","x":78.3,"y":21300},{"k":"L","p":"f","s":"h2","x":78.55,"y":16100},{"k":"L","p":"f","s":"h2","x":82.25,"y":16100},{"k":"L","p":"f","s":"h2","x":82.5,"y":17400},{"k":"L","p":"f","s":"h2","x":82.75,"y":16100},{"k":"L","p":"f","s":"h2","x":98.85,"y":16100},{"k":"L","p":"f","s":"h2","x":99.1,"y":16500},{"k":"L","p":"f","s":"h2","x":99.35,"y":16100},{"k":"L","p":"f","s":"h2","x":100,"y":16100},
{"k":"L","p":"f","s":"ar","x":20,"y":0},{"k":"L","p":"f","s":"ar","x":26.45,"y":0},{"k":"L","p":"f","s":"ar","x":26.8,"y":900},{"k":"L","p":"f","s":"ar","x":27.15,"y":0},{"k":"L","p":"f","s":"ar","x":27.25,"y":0},{"k":"L","p":"f","s":"ar","x":27.6,"y":500},{"k":"L","p":"f","s":"ar","x":27.95,"y":0},{"k":"L","p":"f","s":"ar","x":31.25,"y":0},{"k":"L","p":"f","s":"ar","x":31.6,"y":200},{"k":"L","p":"f","s":"ar","x":31.95,"y":0},{"k":"L","p":"f","s":"ar","x":35.45,"y":0},{"k":"L","p":"f","s":"ar","x":35.8,"y":300},{"k":"L","p":"f","s":"ar","x":36.15,"y":0},{"k":"L","p":"f","s":"ar","x":38.15,"y":0},{"k":"L","p":"f","s":"ar","x":38.5,"y":9800},{"k":"L","p":"f","s":"ar","x":38.85,"y":0},{"k":"L","p":"f","s":"ar","x":44.45,"y":0},{"k":"L","p":"f","s":"ar","x":44.8,"y":6000},{"k":"L","p":"f","s":"ar","x":45.15,"y":0},{"k":"L","p":"f","s":"ar","x":64.85,"y":0},{"k":"L","p":"f","s":"ar","x":65.2,"y":1500},{"k":"L","p":"f","s":"ar","x":65.55,"y":0},{"k":"L","p":"f","s":"ar","x":77.95,"y":0},{"k":"L","p":"f","s":"ar","x":78.3,"y":2800},{"k":"L","p":"f","s":"ar","x":78.65,"y":0},{"k":"L","p":"f","s":"ar","x":82.15,"y":0},{"k":"L","p":"f","s":"ar","x":82.5,"y":1000},{"k":"L","p":"f","s":"ar","x":82.85,"y":0},{"k":"L","p":"f","s":"ar","x":98.75,"y":0},{"k":"L","p":"f","s":"ar","x":99.1,"y":400},{"k":"L","p":"f","s":"ar","x":99.45,"y":0},{"k":"L","p":"f","s":"ar","x":100,"y":0},

{"k":"P","p":"a","x":26.8,"y":56850,"t":"FeAl₃"},{"k":"P","p":"a","x":35.8,"y":48400,"t":"FeAl₃"},{"k":"P","p":"a","x":38.7,"y":54700,"t":"α-Al"},{"k":"P","p":"a","x":44.2,"y":58700,"t":"α-Al"},{"k":"P","p":"a","x":46.0,"y":48900,"t":"FeAl₃"},{"k":"P","p":"a","x":65.0,"y":51700,"t":"α-Al"},{"k":"P","p":"a","x":78.5,"y":50800,"t":"α-Al"},{"k":"P","p":"a","x":83.0,"y":47900,"t":"α-Al"},{"k":"P","p":"a","x":98.5,"y":48400,"t":"α-Al"},
{"k":"P","p":"a","x":26.6,"y":34800,"t":"FeAl₃"},{"k":"P","p":"a","x":35.3,"y":27300,"t":"FeAl₃"},{"k":"P","p":"a","x":38.3,"y":35700,"t":"α-Al"},{"k":"P","p":"a","x":44.2,"y":41600,"t":"α-Al"},{"k":"P","p":"a","x":46.3,"y":29200,"t":"FeAl₃"},{"k":"P","p":"a","x":65.0,"y":31050,"t":"α-Al"},{"k":"P","p":"a","x":78.5,"y":30300,"t":"α-Al"},{"k":"P","p":"a","x":82.9,"y":27800,"t":"α-Al"},{"k":"P","p":"a","x":98.5,"y":28700,"t":"α-Al"},
{"k":"P","p":"a","x":27.0,"y":1500,"t":"FeAl₃"},{"k":"P","p":"a","x":35.5,"y":1500,"t":"FeAl₃"},{"k":"P","p":"a","x":38.5,"y":9660,"t":"α-Al"},{"k":"P","p":"a","x":43.2,"y":20700,"t":"α-Al"},{"k":"P","p":"a","x":65.0,"y":6470,"t":"α-Al"},{"k":"P","p":"a","x":78.5,"y":7600,"t":"α-Al"},{"k":"P","p":"a","x":82.8,"y":560,"t":"α-Al"},{"k":"P","p":"a","x":98.5,"y":2900,"t":"α-Al"},
{"k":"P","p":"b","x":26.9,"y":29360,"t":"FeAl₃"},{"k":"P","p":"b","x":35.9,"y":20450,"t":"FeAl₃"},{"k":"P","p":"b","x":39.0,"y":27950,"t":"α-Al"},{"k":"P","p":"b","x":45.0,"y":31240,"t":"α-Al"},{"k":"P","p":"b","x":46.3,"y":23260,"t":"FeAl₃"},{"k":"P","p":"b","x":65.3,"y":24200,"t":"α-Al"},{"k":"P","p":"b","x":78.3,"y":23730,"t":"α-Al"},{"k":"P","p":"b","x":82.6,"y":19800,"t":"α-Al"},{"k":"P","p":"b","x":98.7,"y":20900,"t":"α-Al"},
{"k":"P","p":"b","x":27.0,"y":8070,"t":"FeAl₃"},{"k":"P","p":"b","x":35.7,"y":1500,"t":"FeAl₃"},{"k":"P","p":"b","x":39.0,"y":9570,"t":"α-Al"},{"k":"P","p":"b","x":47.0,"y":11070,"t":"α-Al"},{"k":"P","p":"b","x":46.1,"y":2160,"t":"FeAl₃"},{"k":"P","p":"b","x":65.3,"y":4320,"t":"α-Al"},{"k":"P","p":"b","x":78.3,"y":4500,"t":"α-Al"},{"k":"P","p":"b","x":82.6,"y":750,"t":"α-Al"},{"k":"P","p":"b","x":98.7,"y":2160,"t":"α-Al"},
{"k":"P","p":"c","x":27.2,"y":32930,"t":"FeAl₃"},{"k":"P","p":"c","x":32.1,"y":33110,"t":"Al₂O₃"},{"k":"P","p":"c","x":35.8,"y":34800,"t":"FeAl₃"},{"k":"P","p":"c","x":38.9,"y":48400,"t":"α-Al"},{"k":"P","p":"c","x":44.8,"y":40430,"t":"α-Al"},{"k":"P","p":"c","x":60.2,"y":33400,"t":"Al₂O₃"},{"k":"P","p":"c","x":65.7,"y":37150,"t":"α-Al"},{"k":"P","p":"c","x":78.3,"y":37150,"t":"α-Al"},{"k":"P","p":"c","x":82.8,"y":34330,"t":"α-Al"},{"k":"P","p":"c","x":98.7,"y":33860,"t":"α-Al"},
{"k":"P","p":"c","x":27.2,"y":17730,"t":"FeAl₃"},{"k":"P","p":"c","x":32.0,"y":17920,"t":"Al₂O₃"},{"k":"P","p":"c","x":35.7,"y":19800,"t":"FeAl₃"},{"k":"P","p":"c","x":40.0,"y":26830,"t":"α-Al"},{"k":"P","p":"c","x":45.6,"y":23830,"t":"α-Al"},{"k":"P","p":"c","x":60.2,"y":17920,"t":"Al₂O₃"},{"k":"P","p":"c","x":65.7,"y":21200,"t":"α-Al"},{"k":"P","p":"c","x":78.3,"y":21200,"t":"α-Al"},{"k":"P","p":"c","x":82.8,"y":18390,"t":"α-Al"},{"k":"P","p":"c","x":98.7,"y":17920,"t":"α-Al"},
{"k":"P","p":"c","x":27.0,"y":1500,"t":"FeAl₃"},{"k":"P","p":"c","x":36.1,"y":3660,"t":"FeAl₃"},{"k":"P","p":"c","x":40.0,"y":12290,"t":"α-Al"},{"k":"P","p":"c","x":45.5,"y":8540,"t":"α-Al"},{"k":"P","p":"c","x":60.2,"y":1030,"t":"Al₂O₃"},{"k":"P","p":"c","x":65.7,"y":5250,"t":"α-Al"},{"k":"P","p":"c","x":78.3,"y":5720,"t":"α-Al"},{"k":"P","p":"c","x":82.8,"y":1220,"t":"α-Al"},{"k":"P","p":"c","x":98.7,"y":1030,"t":"α-Al"},
{"k":"P","p":"d","x":27.4,"y":39210,"t":"FeAl₃"},{"k":"P","p":"d","x":35.9,"y":36870,"t":"FeAl₃"},{"k":"P","p":"d","x":38.6,"y":49600,"t":"α-Al"},{"k":"P","p":"d","x":44.5,"y":43900,"t":"α-Al"},{"k":"P","p":"d","x":54.3,"y":36400,"t":"Al₂O₃"},{"k":"P","p":"d","x":60.4,"y":36210,"t":"Al₂O₃"},{"k":"P","p":"d","x":65.3,"y":40150,"t":"α-Al"},{"k":"P","p":"d","x":78.4,"y":39400,"t":"α-Al"},{"k":"P","p":"d","x":82.9,"y":36870,"t":"α-Al"},{"k":"P","p":"d","x":98.5,"y":37340,"t":"α-Al"},
{"k":"P","p":"d","x":27.7,"y":22800,"t":"FeAl₃"},{"k":"P","p":"d","x":35.9,"y":23260,"t":"FeAl₃"},{"k":"P","p":"d","x":38.6,"y":30300,"t":"α-Al"},{"k":"P","p":"d","x":44.9,"y":27950,"t":"α-Al"},{"k":"P","p":"d","x":54.3,"y":20730,"t":"Al₂O₃"},{"k":"P","p":"d","x":60.4,"y":20730,"t":"Al₂O₃"},{"k":"P","p":"d","x":65.7,"y":23730,"t":"α-Al"},{"k":"P","p":"d","x":78.4,"y":24200,"t":"α-Al"},{"k":"P","p":"d","x":82.9,"y":20920,"t":"α-Al"},{"k":"P","p":"d","x":98.5,"y":21390,"t":"α-Al"},
{"k":"P","p":"d","x":27.7,"y":2630,"t":"FeAl₃"},{"k":"P","p":"d","x":36.2,"y":2630,"t":"FeAl₃"},{"k":"P","p":"d","x":38.6,"y":10130,"t":"α-Al"},{"k":"P","p":"d","x":44.6,"y":9190,"t":"α-Al"},{"k":"P","p":"d","x":54.6,"y":1690,"t":"Al₂O₃"},{"k":"P","p":"d","x":59.8,"y":750,"t":"Al₂O₃"},{"k":"P","p":"d","x":65.3,"y":5440,"t":"α-Al"},{"k":"P","p":"d","x":78.4,"y":4030,"t":"α-Al"},{"k":"P","p":"d","x":82.9,"y":940,"t":"α-Al"},{"k":"P","p":"d","x":98.5,"y":1690,"t":"α-Al"},
{"k":"P","p":"e","x":26.7,"y":41840,"t":"FeAl₃"},{"k":"P","p":"e","x":31.7,"y":39300,"t":"FeAl₃"},{"k":"P","p":"e","x":38.6,"y":39970,"t":"α-Al"},{"k":"P","p":"e","x":45.3,"y":54040,"t":"α-Al"},{"k":"P","p":"e","x":46.8,"y":39500,"t":"FeAl₃"},{"k":"P","p":"e","x":57.7,"y":39300,"t":"Al₂O₃"},{"k":"P","p":"e","x":65.5,"y":46530,"t":"α-Al"},{"k":"P","p":"e","x":78.3,"y":45120,"t":"α-Al"},{"k":"P","p":"e","x":98.8,"y":39500,"t":"α-Al"},
{"k":"P","p":"e","x":26.9,"y":20730,"t":"FeAl₃"},{"k":"P","p":"e","x":31.9,"y":18670,"t":"FeAl₃"},{"k":"P","p":"e","x":38.7,"y":19320,"t":"α-Al"},{"k":"P","p":"e","x":45.5,"y":28240,"t":"α-Al"},{"k":"P","p":"e","x":46.9,"y":18860,"t":"FeAl₃"},{"k":"P","p":"e","x":57.7,"y":18860,"t":"Al₂O₃"},{"k":"P","p":"e","x":65.5,"y":21860,"t":"α-Al"},{"k":"P","p":"e","x":79.0,"y":22140,"t":"α-Al"},{"k":"P","p":"e","x":98.8,"y":18860,"t":"α-Al"},
{"k":"P","p":"e","x":26.7,"y":1970,"t":"FeAl₃"},{"k":"P","p":"e","x":31.7,"y":1500,"t":"FeAl₃"},{"k":"P","p":"e","x":38.6,"y":1500,"t":"α-Al"},{"k":"P","p":"e","x":45.1,"y":4030,"t":"α-Al"},{"k":"P","p":"e","x":65.3,"y":4780,"t":"α-Al"},{"k":"P","p":"e","x":78.2,"y":4320,"t":"α-Al"},{"k":"P","p":"e","x":98.8,"y":1030,"t":"α-Al"},
{"k":"P","p":"f","x":27.2,"y":38160,"t":"FeAl₃"},{"k":"P","p":"f","x":32.1,"y":35730,"t":"FeAl₃"},{"k":"P","p":"f","x":38.9,"y":46300,"t":"α-Al"},{"k":"P","p":"f","x":45.4,"y":41340,"t":"α-Al"},{"k":"P","p":"f","x":46.9,"y":36670,"t":"FeAl₃"},{"k":"P","p":"f","x":60.3,"y":35540,"t":"Al₂O₃"},{"k":"P","p":"f","x":65.5,"y":39280,"t":"α-Al"},{"k":"P","p":"f","x":78.5,"y":40690,"t":"α-Al"},{"k":"P","p":"f","x":82.8,"y":36950,"t":"α-Al"},{"k":"P","p":"f","x":98.5,"y":35730,"t":"α-Al"},
{"k":"P","p":"f","x":27.4,"y":18700,"t":"FeAl₃"},{"k":"P","p":"f","x":32.1,"y":17300,"t":"FeAl₃"},{"k":"P","p":"f","x":39.1,"y":29000,"t":"α-Al"},{"k":"P","p":"f","x":45.4,"y":22900,"t":"α-Al"},{"k":"P","p":"f","x":46.9,"y":17960,"t":"FeAl₃"},{"k":"P","p":"f","x":60.1,"y":17300,"t":"Al₂O₃"},{"k":"P","p":"f","x":65.5,"y":18890,"t":"α-Al"},{"k":"P","p":"f","x":78.9,"y":21980,"t":"α-Al"},{"k":"P","p":"f","x":82.8,"y":18240,"t":"α-Al"},{"k":"P","p":"f","x":98.2,"y":17580,"t":"α-Al"},
{"k":"P","p":"f","x":27.3,"y":1400,"t":"FeAl₃"},{"k":"P","p":"f","x":39.8,"y":10480,"t":"α-Al"},{"k":"P","p":"f","x":45.6,"y":7010,"t":"α-Al"},{"k":"P","p":"f","x":65.3,"y":2060,"t":"α-Al"},{"k":"P","p":"f","x":78.6,"y":3550,"t":"α-Al"},{"k":"P","p":"f","x":82.8,"y":1680,"t":"α-Al"},{"k":"P","p":"f","x":98.2,"y":1400,"t":"α-Al"},

{"k":"T","p":"a","x":87.2,"y":62000,"t":"PTFE, Manuf-1"},{"k":"T","p":"b","x":85.6,"y":60600,"t":"Granite Manuf-4"},{"k":"T","p":"c","x":87.6,"y":61540,"t":"PTFE, Manuf-2"},{"k":"T","p":"d","x":85.0,"y":61260,"t":"Granite Manuf-5"},{"k":"T","p":"e","x":89.1,"y":60900,"t":"PTFE, Manuf-3"},{"k":"T","p":"f","x":85.9,"y":61260,"t":"Granite Manuf-6"},
{"k":"H","p":"a","x":78.3,"y":44180,"t":"Heating at 350°C, 2h"},{"k":"H","p":"a","x":78.3,"y":24480,"t":"Heating at 250°C, 2h"},{"k":"H","p":"a","x":84.2,"y":-1600,"t":"As-received"},
{"k":"H","p":"b","x":76.7,"y":16420,"t":"Heating at 350°C, 2h"},{"k":"H","p":"b","x":79.4,"y":-2530,"t":"Heating at 250°C, 2h"},
{"k":"H","p":"c","x":79.3,"y":28990,"t":"Heating at 350°C, 2h"},{"k":"H","p":"c","x":78.5,"y":13700,"t":"Heating at 250°C, 2h"},{"k":"H","p":"c","x":85.6,"y":-2720,"t":"As-received"},
{"k":"H","p":"d","x":78.8,"y":32460,"t":"Heating at 350°C, 2h"},{"k":"H","p":"d","x":78.8,"y":16700,"t":"Heating at 250°C, 2h"},{"k":"H","p":"d","x":83.4,"y":-1780,"t":"As-received"},
{"k":"H","p":"e","x":77.6,"y":35080,"t":"Heating at 350°C, 2h"},{"k":"H","p":"e","x":78.3,"y":14170,"t":"Heating at 250°C, 2h"},{"k":"H","p":"e","x":84.6,"y":-2440,"t":"As-received"},
{"k":"H","p":"f","x":76.6,"y":31330,"t":"Heating at 350°C, 2h"},{"k":"H","p":"f","x":79.3,"y":12620,"t":"Heating at 250°C, 2h"},{"k":"H","p":"f","x":84.9,"y":-2060,"t":"As-received"},
{"k":"A","p":"a","x":20,"y":62460,"t":"(a)"},{"k":"A","p":"b","x":20,"y":63600,"t":"(b)"},{"k":"A","p":"c","x":20,"y":64700,"t":"(c)"},{"k":"A","p":"d","x":20,"y":62200,"t":"(d)"},{"k":"A","p":"e","x":20,"y":62460,"t":"(e)"},{"k":"A","p":"f","x":20,"y":63600,"t":"(f)"},
{"k":"B","p":"a","x":97.6,"y":62900,"y2":58300},{"k":"B","p":"b","x":99.6,"y":62200,"y2":58000},{"k":"B","p":"e","x":99.8,"y":62500,"y2":58250}
]},
"columns": 2,
"spacing": {"row": 45, "column": 64},
"concat": [
 {"transform": [{"filter": "datum.p === 'a'"}], "width": 330, "height": 244, "resolve": {"axis": {"x": "independent", "y": "independent"}},
  "layer": [
  {"transform": [{"filter": "datum.k === 'L'"}], "mark": {"type": "line", "strokeWidth": 1.2},
   "encoding": {"x": {"field": "x", "type": "quantitative", "scale": {"domain": [20, 100], "nice": false, "zero": false}, "axis": {"orient": "bottom", "values": [20,30,40,50,60,70,80,90,100], "title": "Diffraction angle, deg"}},
    "y": {"field": "y", "type": "quantitative", "scale": {"domain": [-3900, 65000], "nice": false, "zero": false}, "axis": {"orient": "left", "values": [0,5000,10000,15000,20000,25000,30000,35000,40000,45000,50000,55000,60000,65000], "format": "d", "title": "Peak intensity, cps"}},
    "color": {"field": "s", "type": "nominal", "scale": {"domain": ["h3","h2","ar"], "range": ["#0000ff","#ff0000","#000000"]}, "legend": null}}},
  {"transform": [{"filter": "datum.k === 'P'"}], "mark": {"type": "text", "angle": 270, "align": "left", "baseline": "middle", "fontSize": 9, "font": "Liberation Sans", "color": "#333333"},
   "encoding": {"x": {"field": "x", "type": "quantitative", "axis": {"orient": "bottom", "values": [25,35,45,55,65,75,85,95], "labels": false, "title": null, "domain": false, "tickSize": 2}},
    "y": {"field": "y", "type": "quantitative", "axis": {"orient": "left", "values": [-2500,2500,7500,12500,17500,22500,27500,32500,37500,42500,47500,52500,57500,62500], "labels": false, "title": null, "domain": false, "tickSize": 2}}, "text": {"field": "t"}}},
  {"transform": [{"filter": "datum.k === 'H'"}], "mark": {"type": "text", "align": "left", "baseline": "middle", "fontSize": 9, "font": "Liberation Sans", "color": "#222222"},
   "encoding": {"x": {"field": "x", "type": "quantitative", "axis": null}, "y": {"field": "y", "type": "quantitative", "axis": null}, "text": {"field": "t"}}},
  {"transform": [{"filter": "datum.k === 'T'"}], "mark": {"type": "text", "align": "center", "baseline": "middle", "fontSize": 12.5, "font": "Liberation Serif", "color": "#222222"},
   "encoding": {"x": {"field": "x", "type": "quantitative", "axis": null}, "y": {"field": "y", "type": "quantitative", "axis": null}, "text": {"field": "t"}}},
  {"transform": [{"filter": "datum.k === 'A'"}], "mark": {"type": "text", "align": "left", "baseline": "middle", "dx": -51, "fontSize": 15, "font": "Liberation Sans", "color": "#111111"},
   "encoding": {"x": {"field": "x", "type": "quantitative", "axis": null}, "y": {"field": "y", "type": "quantitative", "axis": null}, "text": {"field": "t"}}},
  {"transform": [{"filter": "datum.k === 'B'"}], "mark": {"type": "rule", "strokeWidth": 1.5, "color": "#444444"},
   "encoding": {"x": {"field": "x", "type": "quantitative", "axis": null}, "y": {"field": "y", "type": "quantitative", "axis": null}, "y2": {"field": "y2"}}}
 ]},
 {"transform": [{"filter": "datum.p === 'b'"}], "width": 330, "height": 244, "resolve": {"axis": {"x": "independent", "y": "independent"}},
  "layer": [
  {"transform": [{"filter": "datum.k === 'L'"}], "mark": {"type": "line", "strokeWidth": 1.2},
   "encoding": {"x": {"field": "x", "type": "quantitative", "scale": {"domain": [20, 100], "nice": false, "zero": false}, "axis": {"orient": "bottom", "values": [20,30,40,50,60,70,80,90,100], "title": "Diffraction angle, deg"}},
    "y": {"field": "y", "type": "quantitative", "scale": {"domain": [-3900, 65000], "nice": false, "zero": false}, "axis": {"orient": "left", "values": [0,5000,10000,15000,20000,25000,30000,35000,40000,45000,50000,55000,60000,65000], "format": "d", "title": "Peak intensity, cps"}},
    "color": {"field": "s", "type": "nominal", "scale": {"domain": ["h3","h2","ar"], "range": ["#0000ff","#ff0000","#000000"]}, "legend": null}}},
  {"transform": [{"filter": "datum.k === 'P'"}], "mark": {"type": "text", "angle": 270, "align": "left", "baseline": "middle", "fontSize": 9, "font": "Liberation Sans", "color": "#333333"},
   "encoding": {"x": {"field": "x", "type": "quantitative", "axis": {"orient": "bottom", "values": [25,35,45,55,65,75,85,95], "labels": false, "title": null, "domain": false, "tickSize": 2}},
    "y": {"field": "y", "type": "quantitative", "axis": {"orient": "left", "values": [-2500,2500,7500,12500,17500,22500,27500,32500,37500,42500,47500,52500,57500,62500], "labels": false, "title": null, "domain": false, "tickSize": 2}}, "text": {"field": "t"}}},
  {"transform": [{"filter": "datum.k === 'H'"}], "mark": {"type": "text", "align": "left", "baseline": "middle", "fontSize": 9, "font": "Liberation Sans", "color": "#222222"},
   "encoding": {"x": {"field": "x", "type": "quantitative", "axis": null}, "y": {"field": "y", "type": "quantitative", "axis": null}, "text": {"field": "t"}}},
  {"transform": [{"filter": "datum.k === 'T'"}], "mark": {"type": "text", "align": "center", "baseline": "middle", "fontSize": 12.5, "font": "Liberation Serif", "color": "#222222"},
   "encoding": {"x": {"field": "x", "type": "quantitative", "axis": null}, "y": {"field": "y", "type": "quantitative", "axis": null}, "text": {"field": "t"}}},
  {"transform": [{"filter": "datum.k === 'A'"}], "mark": {"type": "text", "align": "left", "baseline": "middle", "dx": -51, "fontSize": 15, "font": "Liberation Sans", "color": "#111111"},
   "encoding": {"x": {"field": "x", "type": "quantitative", "axis": null}, "y": {"field": "y", "type": "quantitative", "axis": null}, "text": {"field": "t"}}},
  {"transform": [{"filter": "datum.k === 'B'"}], "mark": {"type": "rule", "strokeWidth": 1.5, "color": "#222222"},
   "encoding": {"x": {"field": "x", "type": "quantitative", "axis": null}, "y": {"field": "y", "type": "quantitative", "axis": null}, "y2": {"field": "y2"}}}
 ]},
 {"transform": [{"filter": "datum.p === 'c'"}], "width": 330, "height": 244, "resolve": {"axis": {"x": "independent", "y": "independent"}},
  "layer": [
  {"transform": [{"filter": "datum.k === 'L'"}], "mark": {"type": "line", "strokeWidth": 1.2},
   "encoding": {"x": {"field": "x", "type": "quantitative", "scale": {"domain": [20, 100], "nice": false, "zero": false}, "axis": {"orient": "bottom", "values": [20,30,40,50,60,70,80,90,100], "title": "Diffraction angle, deg"}},
    "y": {"field": "y", "type": "quantitative", "scale": {"domain": [-3900, 65000], "nice": false, "zero": false}, "axis": {"orient": "left", "values": [0,5000,10000,15000,20000,25000,30000,35000,40000,45000,50000,55000,60000,65000], "format": "d", "title": "Peak intensity, cps"}},
    "color": {"field": "s", "type": "nominal", "scale": {"domain": ["h3","h2","ar"], "range": ["#0000ff","#ff0000","#000000"]}, "legend": null}}},
  {"transform": [{"filter": "datum.k === 'P'"}], "mark": {"type": "text", "angle": 270, "align": "left", "baseline": "middle", "fontSize": 9, "font": "Liberation Sans", "color": "#333333"},
   "encoding": {"x": {"field": "x", "type": "quantitative", "axis": {"orient": "bottom", "values": [25,35,45,55,65,75,85,95], "labels": false, "title": null, "domain": false, "tickSize": 2}},
    "y": {"field": "y", "type": "quantitative", "axis": {"orient": "left", "values": [-2500,2500,7500,12500,17500,22500,27500,32500,37500,42500,47500,52500,57500,62500], "labels": false, "title": null, "domain": false, "tickSize": 2}}, "text": {"field": "t"}}},
  {"transform": [{"filter": "datum.k === 'H'"}], "mark": {"type": "text", "align": "left", "baseline": "middle", "fontSize": 9, "font": "Liberation Sans", "color": "#222222"},
   "encoding": {"x": {"field": "x", "type": "quantitative", "axis": null}, "y": {"field": "y", "type": "quantitative", "axis": null}, "text": {"field": "t"}}},
  {"transform": [{"filter": "datum.k === 'T'"}], "mark": {"type": "text", "align": "center", "baseline": "middle", "fontSize": 12.5, "font": "Liberation Serif", "color": "#222222"},
   "encoding": {"x": {"field": "x", "type": "quantitative", "axis": null}, "y": {"field": "y", "type": "quantitative", "axis": null}, "text": {"field": "t"}}},
  {"transform": [{"filter": "datum.k === 'A'"}], "mark": {"type": "text", "align": "left", "baseline": "middle", "dx": -51, "fontSize": 15, "font": "Liberation Sans", "color": "#111111"},
   "encoding": {"x": {"field": "x", "type": "quantitative", "axis": null}, "y": {"field": "y", "type": "quantitative", "axis": null}, "text": {"field": "t"}}}
 ]},
 {"transform": [{"filter": "datum.p === 'd'"}], "width": 330, "height": 244, "resolve": {"axis": {"x": "independent", "y": "independent"}},
  "layer": [
  {"transform": [{"filter": "datum.k === 'L'"}], "mark": {"type": "line", "strokeWidth": 1.2},
   "encoding": {"x": {"field": "x", "type": "quantitative", "scale": {"domain": [20, 100], "nice": false, "zero": false}, "axis": {"orient": "bottom", "values": [20,30,40,50,60,70,80,90,100], "title": "Diffraction angle, deg"}},
    "y": {"field": "y", "type": "quantitative", "scale": {"domain": [-3900, 65000], "nice": false, "zero": false}, "axis": {"orient": "left", "values": [0,5000,10000,15000,20000,25000,30000,35000,40000,45000,50000,55000,60000,65000], "format": "d", "title": "Peak intensity, cps"}},
    "color": {"field": "s", "type": "nominal", "scale": {"domain": ["h3","h2","ar"], "range": ["#0000ff","#ff0000","#000000"]}, "legend": null}}},
  {"transform": [{"filter": "datum.k === 'P'"}], "mark": {"type": "text", "angle": 270, "align": "left", "baseline": "middle", "fontSize": 9, "font": "Liberation Sans", "color": "#333333"},
   "encoding": {"x": {"field": "x", "type": "quantitative", "axis": {"orient": "bottom", "values": [25,35,45,55,65,75,85,95], "labels": false, "title": null, "domain": false, "tickSize": 2}},
    "y": {"field": "y", "type": "quantitative", "axis": {"orient": "left", "values": [-2500,2500,7500,12500,17500,22500,27500,32500,37500,42500,47500,52500,57500,62500], "labels": false, "title": null, "domain": false, "tickSize": 2}}, "text": {"field": "t"}}},
  {"transform": [{"filter": "datum.k === 'H'"}], "mark": {"type": "text", "align": "left", "baseline": "middle", "fontSize": 9, "font": "Liberation Sans", "color": "#222222"},
   "encoding": {"x": {"field": "x", "type": "quantitative", "axis": null}, "y": {"field": "y", "type": "quantitative", "axis": null}, "text": {"field": "t"}}},
  {"transform": [{"filter": "datum.k === 'T'"}], "mark": {"type": "text", "align": "center", "baseline": "middle", "fontSize": 12.5, "font": "Liberation Serif", "color": "#222222"},
   "encoding": {"x": {"field": "x", "type": "quantitative", "axis": null}, "y": {"field": "y", "type": "quantitative", "axis": null}, "text": {"field": "t"}}},
  {"transform": [{"filter": "datum.k === 'A'"}], "mark": {"type": "text", "align": "left", "baseline": "middle", "dx": -51, "fontSize": 15, "font": "Liberation Sans", "color": "#111111"},
   "encoding": {"x": {"field": "x", "type": "quantitative", "axis": null}, "y": {"field": "y", "type": "quantitative", "axis": null}, "text": {"field": "t"}}}
 ]},
 {"transform": [{"filter": "datum.p === 'e'"}], "width": 330, "height": 244, "resolve": {"axis": {"x": "independent", "y": "independent"}},
  "layer": [
  {"transform": [{"filter": "datum.k === 'L'"}], "mark": {"type": "line", "strokeWidth": 1.2},
   "encoding": {"x": {"field": "x", "type": "quantitative", "scale": {"domain": [20, 100], "nice": false, "zero": false}, "axis": {"orient": "bottom", "values": [20,30,40,50,60,70,80,90,100], "title": "Diffraction angle, deg"}},
    "y": {"field": "y", "type": "quantitative", "scale": {"domain": [-3900, 65000], "nice": false, "zero": false}, "axis": {"orient": "left", "values": [0,5000,10000,15000,20000,25000,30000,35000,40000,45000,50000,55000,60000,65000], "format": "d", "title": "Peak intensity, cps"}},
    "color": {"field": "s", "type": "nominal", "scale": {"domain": ["h3","h2","ar"], "range": ["#0000ff","#ff0000","#000000"]}, "legend": null}}},
  {"transform": [{"filter": "datum.k === 'P'"}], "mark": {"type": "text", "angle": 270, "align": "left", "baseline": "middle", "fontSize": 9, "font": "Liberation Sans", "color": "#333333"},
   "encoding": {"x": {"field": "x", "type": "quantitative", "axis": {"orient": "bottom", "values": [25,35,45,55,65,75,85,95], "labels": false, "title": null, "domain": false, "tickSize": 2}},
    "y": {"field": "y", "type": "quantitative", "axis": {"orient": "left", "values": [-2500,2500,7500,12500,17500,22500,27500,32500,37500,42500,47500,52500,57500,62500], "labels": false, "title": null, "domain": false, "tickSize": 2}}, "text": {"field": "t"}}},
  {"transform": [{"filter": "datum.k === 'H'"}], "mark": {"type": "text", "align": "left", "baseline": "middle", "fontSize": 9, "font": "Liberation Sans", "color": "#222222"},
   "encoding": {"x": {"field": "x", "type": "quantitative", "axis": null}, "y": {"field": "y", "type": "quantitative", "axis": null}, "text": {"field": "t"}}},
  {"transform": [{"filter": "datum.k === 'T'"}], "mark": {"type": "text", "align": "center", "baseline": "middle", "fontSize": 12.5, "font": "Liberation Serif", "color": "#222222"},
   "encoding": {"x": {"field": "x", "type": "quantitative", "axis": null}, "y": {"field": "y", "type": "quantitative", "axis": null}, "text": {"field": "t"}}},
  {"transform": [{"filter": "datum.k === 'A'"}], "mark": {"type": "text", "align": "left", "baseline": "middle", "dx": -51, "fontSize": 15, "font": "Liberation Sans", "color": "#111111"},
   "encoding": {"x": {"field": "x", "type": "quantitative", "axis": null}, "y": {"field": "y", "type": "quantitative", "axis": null}, "text": {"field": "t"}}},
  {"transform": [{"filter": "datum.k === 'B'"}], "mark": {"type": "rule", "strokeWidth": 1.5, "color": "#555555"},
   "encoding": {"x": {"field": "x", "type": "quantitative", "axis": null}, "y": {"field": "y", "type": "quantitative", "axis": null}, "y2": {"field": "y2"}}}
 ]},
 {"transform": [{"filter": "datum.p === 'f'"}], "width": 330, "height": 244, "resolve": {"axis": {"x": "independent", "y": "independent"}},
  "layer": [
  {"transform": [{"filter": "datum.k === 'L'"}], "mark": {"type": "line", "strokeWidth": 1.2},
   "encoding": {"x": {"field": "x", "type": "quantitative", "scale": {"domain": [20, 100], "nice": false, "zero": false}, "axis": {"orient": "bottom", "values": [20,30,40,50,60,70,80,90,100], "title": "Diffraction angle, deg"}},
    "y": {"field": "y", "type": "quantitative", "scale": {"domain": [-3900, 65000], "nice": false, "zero": false}, "axis": {"orient": "left", "values": [0,5000,10000,15000,20000,25000,30000,35000,40000,45000,50000,55000,60000,65000], "format": "d", "title": "Peak intensity, cps"}},
    "color": {"field": "s", "type": "nominal", "scale": {"domain": ["h3","h2","ar"], "range": ["#0000ff","#ff0000","#000000"]}, "legend": null}}},
  {"transform": [{"filter": "datum.k === 'P'"}], "mark": {"type": "text", "angle": 270, "align": "left", "baseline": "middle", "fontSize": 9, "font": "Liberation Sans", "color": "#333333"},
   "encoding": {"x": {"field": "x", "type": "quantitative", "axis": {"orient": "bottom", "values": [25,35,45,55,65,75,85,95], "labels": false, "title": null, "domain": false, "tickSize": 2}},
    "y": {"field": "y", "type": "quantitative", "axis": {"orient": "left", "values": [-2500,2500,7500,12500,17500,22500,27500,32500,37500,42500,47500,52500,57500,62500], "labels": false, "title": null, "domain": false, "tickSize": 2}}, "text": {"field": "t"}}},
  {"transform": [{"filter": "datum.k === 'H'"}], "mark": {"type": "text", "align": "left", "baseline": "middle", "fontSize": 9, "font": "Liberation Sans", "color": "#222222"},
   "encoding": {"x": {"field": "x", "type": "quantitative", "axis": null}, "y": {"field": "y", "type": "quantitative", "axis": null}, "text": {"field": "t"}}},
  {"transform": [{"filter": "datum.k === 'T'"}], "mark": {"type": "text", "align": "center", "baseline": "middle", "fontSize": 12.5, "font": "Liberation Serif", "color": "#222222"},
   "encoding": {"x": {"field": "x", "type": "quantitative", "axis": null}, "y": {"field": "y", "type": "quantitative", "axis": null}, "text": {"field": "t"}}},
  {"transform": [{"filter": "datum.k === 'A'"}], "mark": {"type": "text", "align": "left", "baseline": "middle", "dx": -51, "fontSize": 15, "font": "Liberation Sans", "color": "#111111"},
   "encoding": {"x": {"field": "x", "type": "quantitative", "axis": null}, "y": {"field": "y", "type": "quantitative", "axis": null}, "text": {"field": "t"}}}
 ]}
],
"config": {
 "view": {"stroke": "#000000", "strokeWidth": 1},
 "axis": {"grid": false, "labelFont": "Liberation Sans", "titleFont": "Liberation Sans", "labelFontSize": 10, "titleFontSize": 12, "titleFontWeight": "normal", "labelColor": "#222222", "titleColor": "#222222", "domainColor": "#333333", "tickColor": "#333333", "tickSize": 4, "labelPadding": 2, "titlePadding": 4, "labelFlush": false}
}
}
